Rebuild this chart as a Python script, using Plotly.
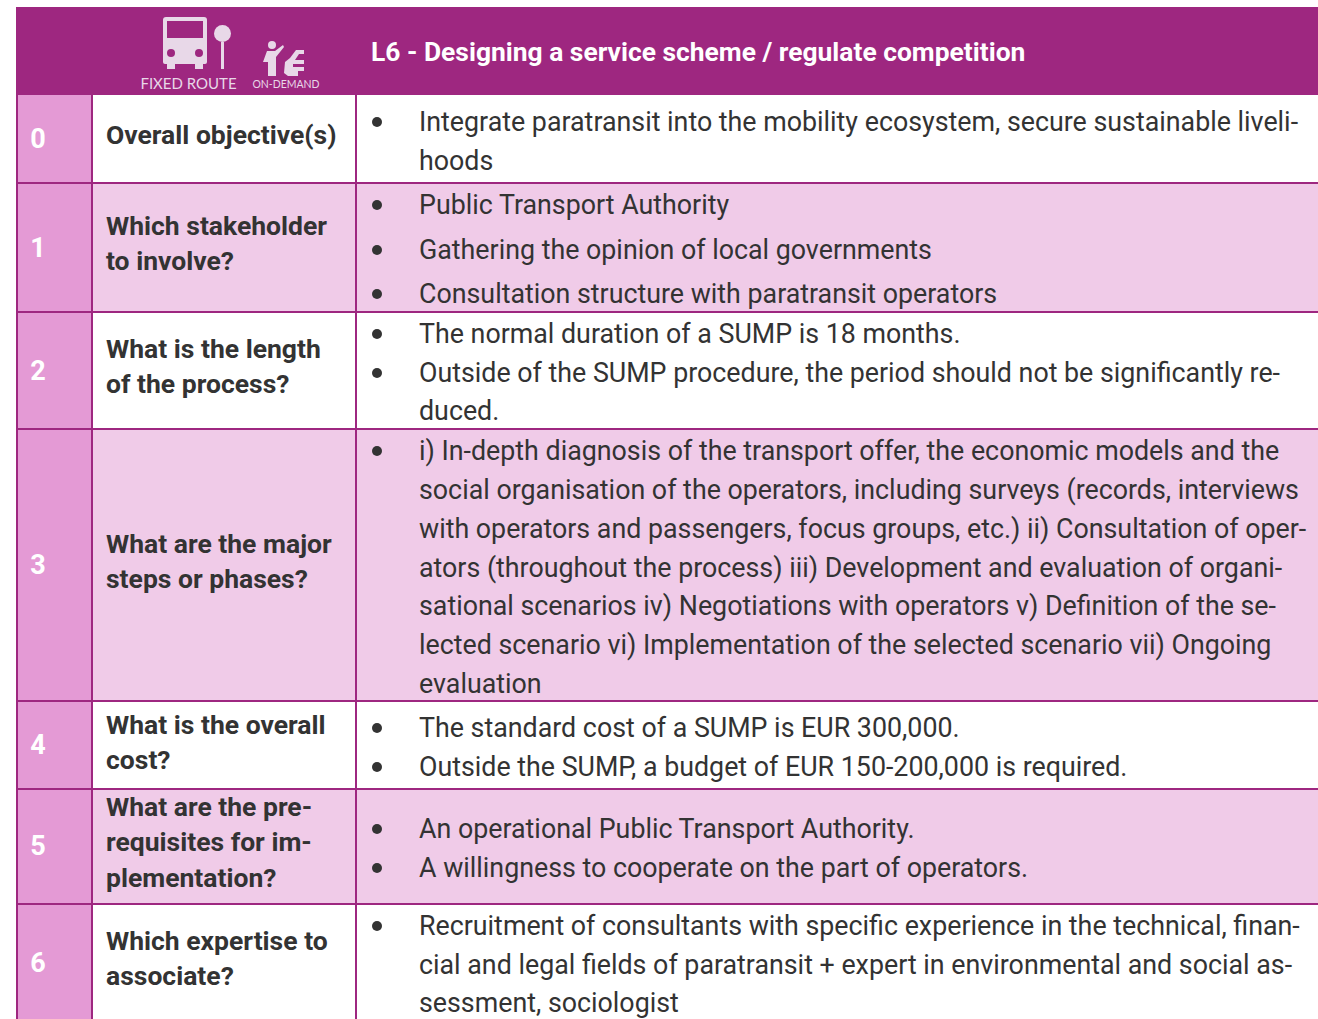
import plotly.graph_objects as go

# ---- content ----
header_title = "L6 - Designing a service scheme / regulate competition"
row_numbers = ["0", "1", "2", "3", "4", "5", "6"]
row_questions = [
    ["Overall objective(s)"],
    ["Which stakeholder", "to involve?"],
    ["What is the length", "of the process?"],
    ["What are the major", "steps or phases?"],
    ["What is the overall", "cost?"],
    ["What are the pre-", "requisites for im-", "plementation?"],
    ["Which expertise to", "associate?"],
]
row_answers = [
    ["Integrate paratransit into the mobility ecosystem, secure sustainable liveli-", "hoods"],
    ["Public Transport Authority", "Gathering the opinion of local governments", "Consultation structure with paratransit operators"],
    ["The normal duration of a SUMP is 18 months.",
     "Outside of the SUMP procedure, the period should not be significantly re-", "duced."],
    ["i) In-depth diagnosis of the transport offer, the economic models and the",
     "social organisation of the operators, including surveys (records, interviews",
     "with operators and passengers, focus groups, etc.) ii) Consultation of oper-",
     "ators (throughout the process) iii) Development and evaluation of organi-",
     "sational scenarios iv) Negotiations with operators v) Definition of the se-",
     "lected scenario vi) Implementation of the selected scenario vii) Ongoing",
     "evaluation"],
    ["The standard cost of a SUMP is EUR 300,000.", "Outside the SUMP, a budget of EUR 150-200,000 is required."],
    ["An operational Public Transport Authority.", "A willingness to cooperate on the part of operators."],
    ["Recruitment of consultants with specific experience in the technical, finan-",
     "cial and legal fields of paratransit + expert in environmental and social as-",
     "sessment, sociologist"],
]

# ---- layout ----
W, H = 1318, 1019
row_edges = [95, 183, 312, 429, 701, 789, 904, 1030]
number_y = [141, 250, 373, 567, 747, 848, 965]
question_y = [[137], [228, 263], [351, 386], [546, 581], [727, 762], [809, 844, 880], [943, 978]]
answer_y = [[124, 163], [207, 252, 296], [336, 375, 413], [453, 492, 531, 570, 608, 647, 686],
            [730, 769], [831, 870], [928, 967, 1005]]
bullet_y = [[122], [205, 250, 294], [334, 373], [451], [728, 767], [829, 868], [926]]
PURPLE, MID, LIGHT, INK = "#9E2780", "#E49AD5", "#F0CBE8", "#333333"
FONT = "Roboto"
ANS, Q, NUM = 26.8, 26.5, 27

shapes = []
def rect(x0, y0, x1, y1, fill):
    shapes.append(dict(type="rect", x0=x0, y0=y0, x1=x1, y1=y1, fillcolor=fill, line_width=0, layer="below"))

rect(16, 7, W, 95, PURPLE)
for i in range(len(row_numbers)):
    y0, y1 = row_edges[i], row_edges[i + 1]
    rect(16, y0, 92, y1, MID)
    if i % 2 == 1:
        rect(92, y0, W, y1, LIGHT)
for y in row_edges[1:-1]:
    shapes.append(dict(type="line", x0=16, x1=W, y0=y, y1=y, line=dict(color=PURPLE, width=2)))
for x in (17, 92, 356):
    shapes.append(dict(type="line", x0=x, x1=x, y0=95, y1=H, line=dict(color=PURPLE, width=2)))

ICON = "#E8D8E8"
shapes += [
    # bus with rounded corners
    dict(type="path", path="M166 17 L204 17 Q207 17 207 20 L207 62 Q207 64 205 64 L165 64 Q163 64 163 62 L163 20 Q163 17 166 17 Z",
         fillcolor=ICON, line_width=0),
    dict(type="rect", x0=167, x1=203, y0=21, y1=38, fillcolor=PURPLE, line_width=0),
    dict(type="rect", x0=167, x1=175, y0=64, y1=69, fillcolor=ICON, line_width=0),
    dict(type="rect", x0=195, x1=203, y0=64, y1=69, fillcolor=ICON, line_width=0),
    dict(type="circle", x0=167, x1=175, y0=49, y1=57, fillcolor=PURPLE, line_width=0),
    dict(type="circle", x0=195, x1=203, y0=49, y1=57, fillcolor=PURPLE, line_width=0),
    # stop sign
    dict(type="circle", x0=214, x1=231, y0=25, y1=42, fillcolor=ICON, line_width=0),
    dict(type="rect", x0=221, x1=224, y0=42, y1=69, fillcolor=ICON, line_width=0),
    # person hailing
    dict(type="circle", x0=268, x1=276, y0=41, y1=49, fillcolor=ICON, line_width=0),
    dict(type="path", path="M267 51 L275 51 L283 45 L284 47 L276 57 L276 76 L268 76 L268 62 L263 62 Z", fillcolor=ICON, line_width=0),
    # car, side on
    dict(type="path", path="M304 50 L296 50 L290 58 L285 62 L284 73 L288 76 L298 76 L298 71 L304 71 L304 67 L293 67 L293 64 L304 64 L304 60 L295 60 L299 54 L304 54 Z", fillcolor=ICON, line_width=0),
]

fig = go.Figure()
# header and row-number text
fig.add_trace(go.Scatter(x=[371], y=[54], text=[f"<b>{header_title}</b>"], mode="text", textposition="middle right",
                         textfont=dict(family=FONT, size=26.4, color="white"), hoverinfo="skip"))
fig.add_trace(go.Scatter(x=[188.5], y=[85], text=["FIXED ROUTE"], mode="text", textposition="middle center",
                         textfont=dict(family="Lato", size=15, color=ICON), hoverinfo="skip"))
fig.add_trace(go.Scatter(x=[286], y=[85], text=["ON-DEMAND"], mode="text", textposition="middle center",
                         textfont=dict(family="Lato", size=10.5, color=ICON), hoverinfo="skip"))
fig.add_trace(go.Scatter(x=[38] * len(row_numbers), y=number_y, text=[f"<b>{n}</b>" for n in row_numbers], mode="text",
                         textposition="middle center", textfont=dict(family=FONT, size=NUM, color="white"), hoverinfo="skip"))
# question text
qx, qy, qt = [], [], []
for lines, ys in zip(row_questions, question_y):
    for s, y in zip(lines, ys):
        qx.append(106); qy.append(y); qt.append(f"<b>{s}</b>")
fig.add_trace(go.Scatter(x=qx, y=qy, text=qt, mode="text", textposition="middle right",
                         textfont=dict(family=FONT, size=Q, color=INK), hoverinfo="skip"))
# answer text
ax, ay, at = [], [], []
for lines, ys in zip(row_answers, answer_y):
    for s, y in zip(lines, ys):
        ax.append(419); ay.append(y); at.append(s)
fig.add_trace(go.Scatter(x=ax, y=ay, text=at, mode="text", textposition="middle right",
                         textfont=dict(family=FONT, size=ANS, color=INK), hoverinfo="skip"))
# bullets
by = [y for ys in bullet_y for y in ys]
fig.add_trace(go.Scatter(x=[377] * len(by), y=by, mode="markers", marker=dict(size=10, color=INK), hoverinfo="skip"))

fig.update_layout(
    width=W, height=H, margin=dict(l=0, r=0, t=0, b=0), showlegend=False,
    paper_bgcolor="white", plot_bgcolor="white", shapes=shapes,
    xaxis=dict(range=[0, W], visible=False, fixedrange=True),
    yaxis=dict(range=[H, 0], visible=False, fixedrange=True),
)
# Remove the page's default body margin so the figure fills the window.
fig.write_html("out.html", config={"displayModeBar": False},
               default_width=f"{W}px", default_height=f"{H}px",
               post_script="document.body.style.margin='0';document.body.style.overflow='hidden';")
